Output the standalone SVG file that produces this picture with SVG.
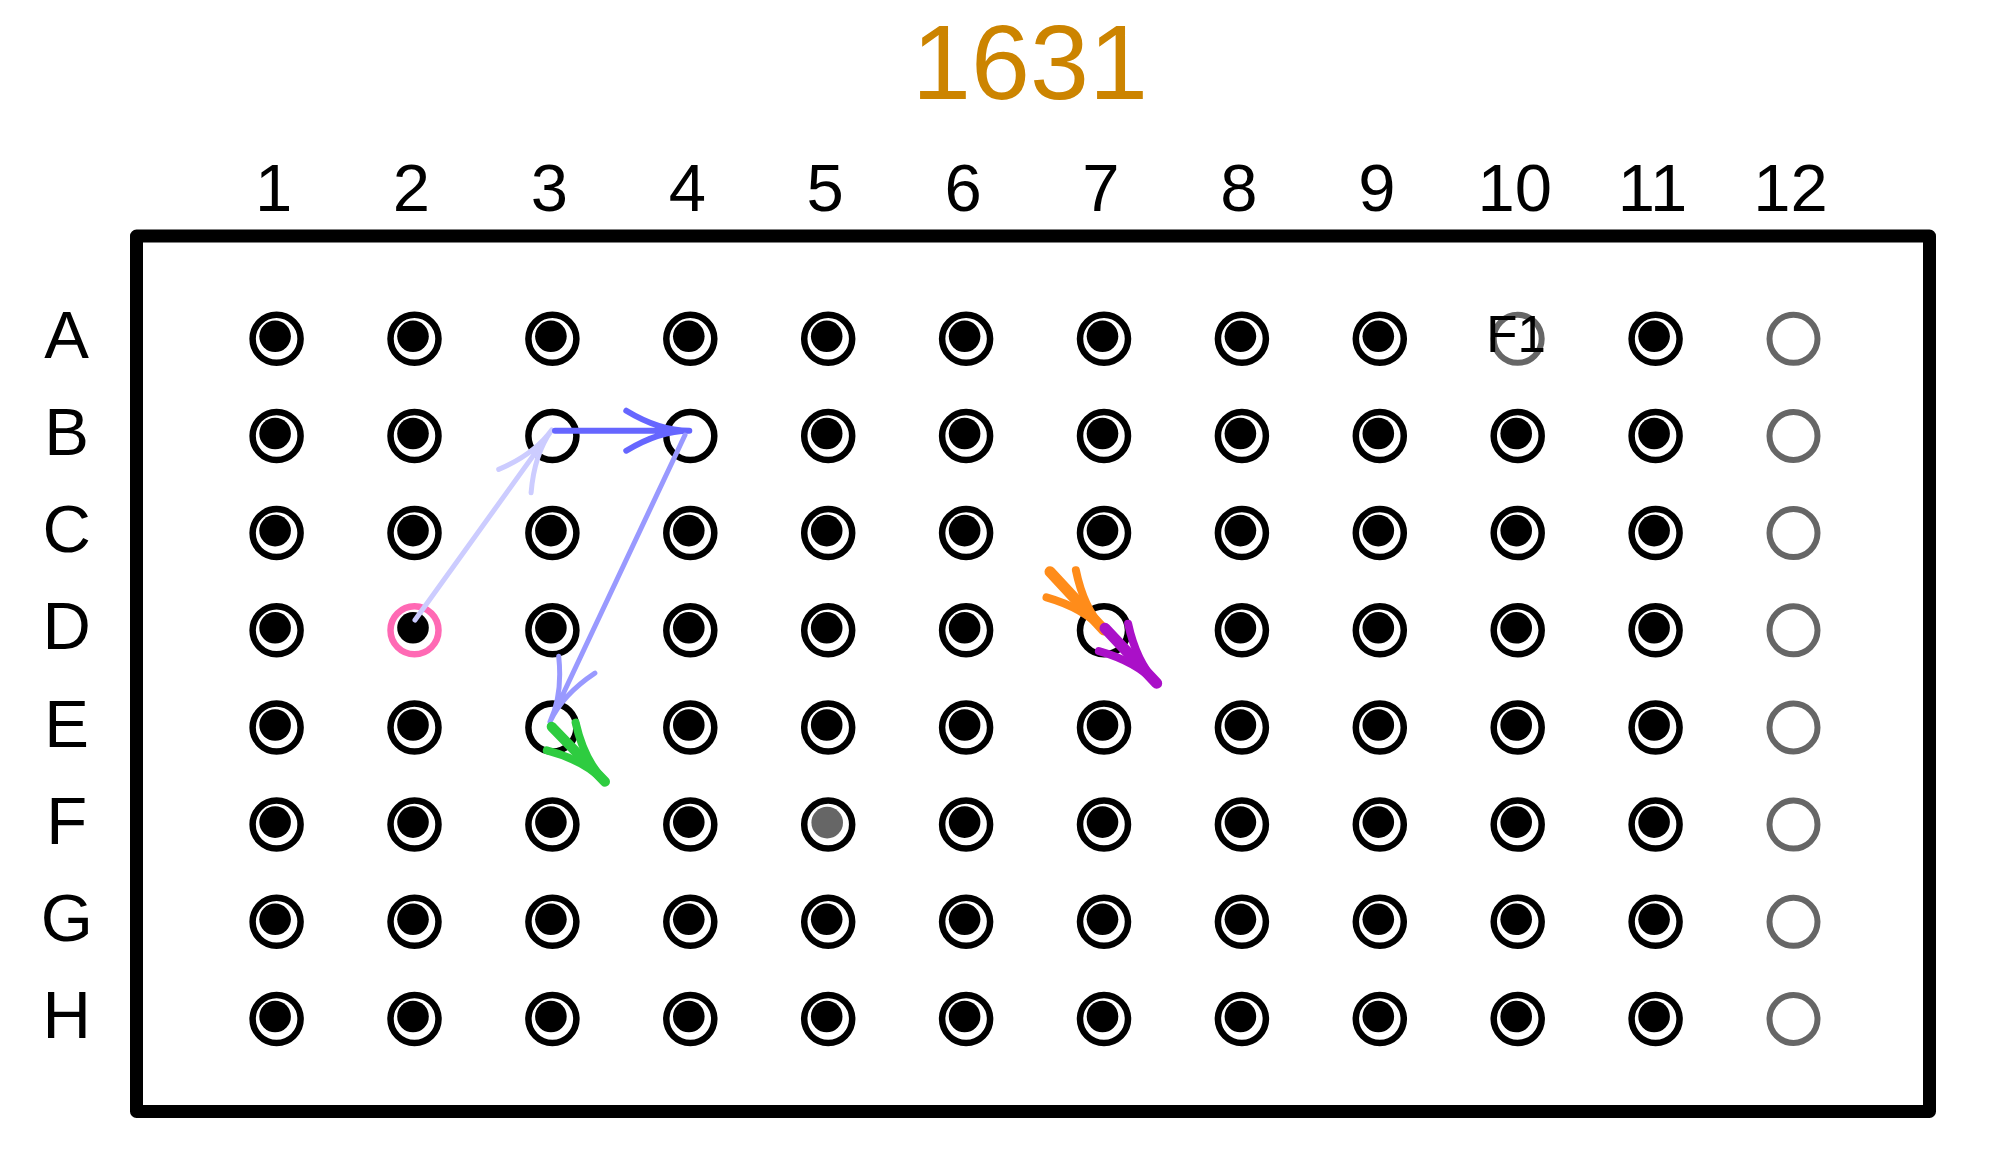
<svg xmlns="http://www.w3.org/2000/svg" xmlns:xlink="http://www.w3.org/1999/xlink" width="1990" height="1164" viewBox="0 0 1990 1164">
<style>
text{font-family:"Liberation Sans",Arial,sans-serif;fill:#000}
.lbl{font-size:67px;text-anchor:middle}
.ring{fill:none;stroke:#000;stroke-width:6.5}
.gring{fill:none;stroke:#666;stroke-width:6}
.arr{fill:none;stroke-linecap:round;stroke-linejoin:round}
</style>
<defs>
<g id="wf"><circle r="24" class="ring"/><circle cx="-1.5" cy="-2.5" r="15.8" fill="#000"/></g>
<g id="we"><circle r="24" class="ring"/></g>
<g id="wg"><circle r="24" class="gring"/></g>
</defs>
<rect width="1990" height="1164" fill="#fff"/>
<text x="1030" y="99" style="font-size:106px;text-anchor:middle;fill:#cc8400">1631</text>
<g id="col-labels">
<text class="lbl" x="273.6" y="211">1</text>
<text class="lbl" x="411.5" y="211">2</text>
<text class="lbl" x="549.4" y="211">3</text>
<text class="lbl" x="687.3" y="211">4</text>
<text class="lbl" x="825.2" y="211">5</text>
<text class="lbl" x="963.1" y="211">6</text>
<text class="lbl" x="1101" y="211">7</text>
<text class="lbl" x="1238.9" y="211">8</text>
<text class="lbl" x="1376.8" y="211">9</text>
<text class="lbl" x="1514.7" y="211">10</text>
<text class="lbl" x="1652.6" y="211">11</text>
<text class="lbl" x="1790.5" y="211">12</text>
</g>
<g id="row-labels">
<text class="lbl" x="66.7" y="357.8">A</text>
<text class="lbl" x="66.7" y="455">B</text>
<text class="lbl" x="66.7" y="552.1">C</text>
<text class="lbl" x="66.7" y="649.3">D</text>
<text class="lbl" x="66.7" y="746.5">E</text>
<text class="lbl" x="66.7" y="843.6">F</text>
<text class="lbl" x="66.7" y="940.8">G</text>
<text class="lbl" x="66.7" y="1038">H</text>
</g>
<rect id="plate" x="136.5" y="236" width="1793" height="875.5" fill="none" stroke="#000" stroke-width="13" stroke-linejoin="round"/>
<g id="wells">
<g id="A1" transform="translate(276.6,338.8)"><use href="#wf"/></g>
<g id="A2" transform="translate(414.5,338.8)"><use href="#wf"/></g>
<g id="A3" transform="translate(552.4,338.8)"><use href="#wf"/></g>
<g id="A4" transform="translate(690.3,338.8)"><use href="#wf"/></g>
<g id="A5" transform="translate(828.2,338.8)"><use href="#wf"/></g>
<g id="A6" transform="translate(966.1,338.8)"><use href="#wf"/></g>
<g id="A7" transform="translate(1104,338.8)"><use href="#wf"/></g>
<g id="A8" transform="translate(1241.9,338.8)"><use href="#wf"/></g>
<g id="A9" transform="translate(1379.8,338.8)"><use href="#wf"/></g>
<g id="A10" transform="translate(1517.7,338.8)"><use href="#wg"/><text x="-1.7" y="13" style="font-size:51px;text-anchor:middle">F1</text></g>
<g id="A11" transform="translate(1655.6,338.8)"><use href="#wf"/></g>
<g id="A12" transform="translate(1793.5,338.8)"><use href="#wg"/></g>
<g id="B1" transform="translate(276.6,436)"><use href="#wf"/></g>
<g id="B2" transform="translate(414.5,436)"><use href="#wf"/></g>
<g id="B3" transform="translate(552.4,436)"><use href="#we"/></g>
<g id="B4" transform="translate(690.3,436)"><use href="#we"/></g>
<g id="B5" transform="translate(828.2,436)"><use href="#wf"/></g>
<g id="B6" transform="translate(966.1,436)"><use href="#wf"/></g>
<g id="B7" transform="translate(1104,436)"><use href="#wf"/></g>
<g id="B8" transform="translate(1241.9,436)"><use href="#wf"/></g>
<g id="B9" transform="translate(1379.8,436)"><use href="#wf"/></g>
<g id="B10" transform="translate(1517.7,436)"><use href="#wf"/></g>
<g id="B11" transform="translate(1655.6,436)"><use href="#wf"/></g>
<g id="B12" transform="translate(1793.5,436)"><use href="#wg"/></g>
<g id="C1" transform="translate(276.6,533.1)"><use href="#wf"/></g>
<g id="C2" transform="translate(414.5,533.1)"><use href="#wf"/></g>
<g id="C3" transform="translate(552.4,533.1)"><use href="#wf"/></g>
<g id="C4" transform="translate(690.3,533.1)"><use href="#wf"/></g>
<g id="C5" transform="translate(828.2,533.1)"><use href="#wf"/></g>
<g id="C6" transform="translate(966.1,533.1)"><use href="#wf"/></g>
<g id="C7" transform="translate(1104,533.1)"><use href="#wf"/></g>
<g id="C8" transform="translate(1241.9,533.1)"><use href="#wf"/></g>
<g id="C9" transform="translate(1379.8,533.1)"><use href="#wf"/></g>
<g id="C10" transform="translate(1517.7,533.1)"><use href="#wf"/></g>
<g id="C11" transform="translate(1655.6,533.1)"><use href="#wf"/></g>
<g id="C12" transform="translate(1793.5,533.1)"><use href="#wg"/></g>
<g id="D1" transform="translate(276.6,630.3)"><use href="#wf"/></g>
<g id="D2" transform="translate(414.5,630.3)"><circle r="24" fill="none" stroke="#ff69b4" stroke-width="6.5"/><circle cx="-1.5" cy="-2.5" r="15.8" fill="#000"/></g>
<g id="D3" transform="translate(552.4,630.3)"><use href="#wf"/></g>
<g id="D4" transform="translate(690.3,630.3)"><use href="#wf"/></g>
<g id="D5" transform="translate(828.2,630.3)"><use href="#wf"/></g>
<g id="D6" transform="translate(966.1,630.3)"><use href="#wf"/></g>
<g id="D7" transform="translate(1104,630.3)"><use href="#we"/></g>
<g id="D8" transform="translate(1241.9,630.3)"><use href="#wf"/></g>
<g id="D9" transform="translate(1379.8,630.3)"><use href="#wf"/></g>
<g id="D10" transform="translate(1517.7,630.3)"><use href="#wf"/></g>
<g id="D11" transform="translate(1655.6,630.3)"><use href="#wf"/></g>
<g id="D12" transform="translate(1793.5,630.3)"><use href="#wg"/></g>
<g id="E1" transform="translate(276.6,727.5)"><use href="#wf"/></g>
<g id="E2" transform="translate(414.5,727.5)"><use href="#wf"/></g>
<g id="E3" transform="translate(552.4,727.5)"><use href="#we"/></g>
<g id="E4" transform="translate(690.3,727.5)"><use href="#wf"/></g>
<g id="E5" transform="translate(828.2,727.5)"><use href="#wf"/></g>
<g id="E6" transform="translate(966.1,727.5)"><use href="#wf"/></g>
<g id="E7" transform="translate(1104,727.5)"><use href="#wf"/></g>
<g id="E8" transform="translate(1241.9,727.5)"><use href="#wf"/></g>
<g id="E9" transform="translate(1379.8,727.5)"><use href="#wf"/></g>
<g id="E10" transform="translate(1517.7,727.5)"><use href="#wf"/></g>
<g id="E11" transform="translate(1655.6,727.5)"><use href="#wf"/></g>
<g id="E12" transform="translate(1793.5,727.5)"><use href="#wg"/></g>
<g id="F1" transform="translate(276.6,824.6)"><use href="#wf"/></g>
<g id="F2" transform="translate(414.5,824.6)"><use href="#wf"/></g>
<g id="F3" transform="translate(552.4,824.6)"><use href="#wf"/></g>
<g id="F4" transform="translate(690.3,824.6)"><use href="#wf"/></g>
<g id="F5" transform="translate(828.2,824.6)"><circle r="24" class="ring"/><circle cx="-1" cy="-2" r="15.8" fill="#666"/></g>
<g id="F6" transform="translate(966.1,824.6)"><use href="#wf"/></g>
<g id="F7" transform="translate(1104,824.6)"><use href="#wf"/></g>
<g id="F8" transform="translate(1241.9,824.6)"><use href="#wf"/></g>
<g id="F9" transform="translate(1379.8,824.6)"><use href="#wf"/></g>
<g id="F10" transform="translate(1517.7,824.6)"><use href="#wf"/></g>
<g id="F11" transform="translate(1655.6,824.6)"><use href="#wf"/></g>
<g id="F12" transform="translate(1793.5,824.6)"><use href="#wg"/></g>
<g id="G1" transform="translate(276.6,921.8)"><use href="#wf"/></g>
<g id="G2" transform="translate(414.5,921.8)"><use href="#wf"/></g>
<g id="G3" transform="translate(552.4,921.8)"><use href="#wf"/></g>
<g id="G4" transform="translate(690.3,921.8)"><use href="#wf"/></g>
<g id="G5" transform="translate(828.2,921.8)"><use href="#wf"/></g>
<g id="G6" transform="translate(966.1,921.8)"><use href="#wf"/></g>
<g id="G7" transform="translate(1104,921.8)"><use href="#wf"/></g>
<g id="G8" transform="translate(1241.9,921.8)"><use href="#wf"/></g>
<g id="G9" transform="translate(1379.8,921.8)"><use href="#wf"/></g>
<g id="G10" transform="translate(1517.7,921.8)"><use href="#wf"/></g>
<g id="G11" transform="translate(1655.6,921.8)"><use href="#wf"/></g>
<g id="G12" transform="translate(1793.5,921.8)"><use href="#wg"/></g>
<g id="H1" transform="translate(276.6,1019)"><use href="#wf"/></g>
<g id="H2" transform="translate(414.5,1019)"><use href="#wf"/></g>
<g id="H3" transform="translate(552.4,1019)"><use href="#wf"/></g>
<g id="H4" transform="translate(690.3,1019)"><use href="#wf"/></g>
<g id="H5" transform="translate(828.2,1019)"><use href="#wf"/></g>
<g id="H6" transform="translate(966.1,1019)"><use href="#wf"/></g>
<g id="H7" transform="translate(1104,1019)"><use href="#wf"/></g>
<g id="H8" transform="translate(1241.9,1019)"><use href="#wf"/></g>
<g id="H9" transform="translate(1379.8,1019)"><use href="#wf"/></g>
<g id="H10" transform="translate(1517.7,1019)"><use href="#wf"/></g>
<g id="H11" transform="translate(1655.6,1019)"><use href="#wf"/></g>
<g id="H12" transform="translate(1793.5,1019)"><use href="#wg"/></g>
</g>
<g id="connectors">
<path class="arr" stroke="#ccccff" stroke-width="5" d="M415,620 L551.7,430 M531.1,492.8 Q534.2,454.3 551.7,430 M498.7,469.4 Q534.2,454.3 551.7,430"/>
<path class="arr" stroke="#6666ff" stroke-width="6" d="M555,430.7 L689.3,430.7 M626.3,450.7 Q659.3,430.7 689.3,430.7 M626.3,410.7 Q659.3,430.7 689.3,430.7"/>
<path class="arr" stroke="#9999ff" stroke-width="5" d="M685,435 L550,721.7 M594.9,673.2 Q562.8,694.6 550,721.7 M558.7,656.2 Q562.8,694.6 550,721.7"/>
<path class="arr" stroke="#2ecc40" stroke-width="8" d="M575.6,722.6 Q584.1,760.2 605,781.7 M546.8,750.4 Q584.1,760.2 605,781.7"/>
<path class="arr" stroke="#2ecc40" stroke-width="10" d="M551.7,726.7 L605,781.7"/>
<path class="arr" stroke="#ff8c1a" stroke-width="8" d="M1075.9,570.2 Q1083.6,608 1104,630 M1046.5,597.4 Q1083.6,608 1104,630"/>
<path class="arr" stroke="#ff8c1a" stroke-width="11" d="M1050,571.7 L1104,630"/>
<path class="arr" stroke="#aa10c8" stroke-width="8" d="M1128.1,623.7 Q1136.2,661.5 1156.7,683.3 M1098.9,651.1 Q1136.2,661.5 1156.7,683.3"/>
<path class="arr" stroke="#aa10c8" stroke-width="11" d="M1105,628.3 L1156.7,683.3"/>
</g>
</svg>
